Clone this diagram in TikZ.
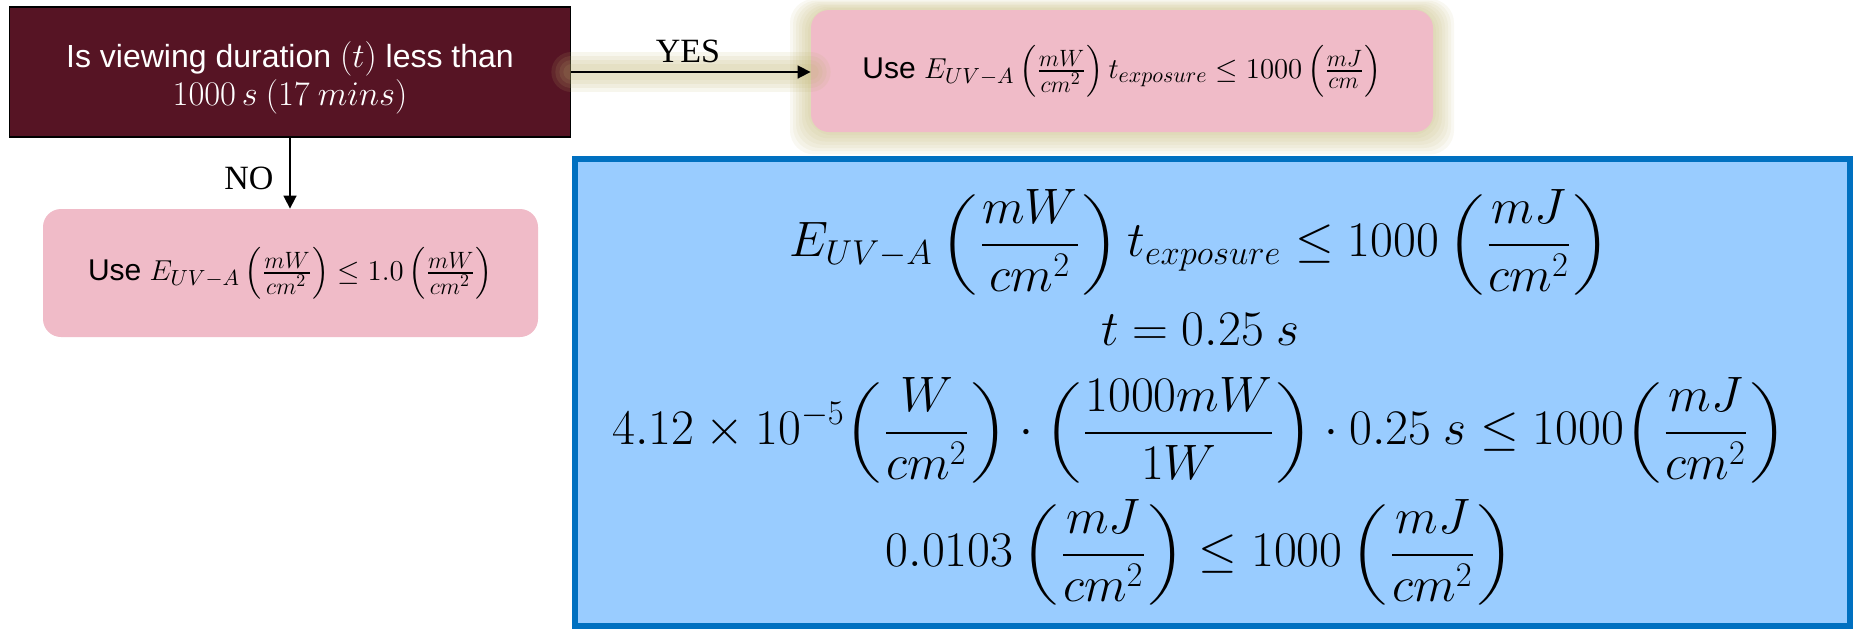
\documentclass[tikz,border=0pt]{standalone}
\usepackage{amsmath}
\usepackage{graphicx}
\usepackage[no-math]{fontspec}
\setmainfont{Liberation Serif}
\newfontfamily\arialf{Liberation Sans}
\usetikzlibrary{arrows.meta,calc}
\definecolor{maroonc}{RGB}{86,20,36}
\definecolor{pinkc}{RGB}{240,187,200}
\definecolor{bluefill}{RGB}{153,204,255}
\definecolor{blueline}{RGB}{0,112,192}
\definecolor{glowc}{RGB}{190,178,110}
\newcommand{\pfr}[2]{\left(\frac{\scalebox{0.82}{$#1$}}{\scalebox{0.82}{$#2$}}\right)}
\newcommand{\sqp}[1]{\vcenter{\hbox{\scalebox{1}[0.84]{$#1$}}}}
\newcommand{\bfr}[2]{\mathopen{\sqp{\left(\vphantom{\dfrac{#1}{#2}}\right.}}\dfrac{#1}{#2}\mathclose{\sqp{\left.\vphantom{\dfrac{#1}{#2}}\right)}}}
\tikzset{
  darkbox/.style={draw=black, line width=0.6pt, fill=maroonc, inner sep=0pt},
  darktext/.style={text=white, align=center, font=\arialf\fontsize{16}{19}\selectfont, inner sep=0pt},
  pinkbox/.style={fill=pinkc, rounded corners=9pt, align=center, font=\arialf\fontsize{15}{18}\selectfont, inner sep=0pt},
  conn/.style={draw=black, line width=0.8pt, -{Triangle[length=6.5pt,width=6.5pt]}},
  lbl/.style={font=\fontsize{17}{20}\selectfont, inner sep=0pt},
  eqn/.style={font=\fontsize{24}{28}\selectfont, inner sep=0pt},
}
\begin{document}
\begin{tikzpicture}[x=0.5pt,y=-0.5pt]
\useasboundingbox (0,0) rectangle (1854,628);
% glow behind top pink box
\foreach \i in {1,...,7}{
  \fill[glowc, opacity=0.09, rounded corners=12pt] (811-3*\i,9.5-1.5*\i) rectangle (1433+3*\i,132+3.2*\i);
}
% blue box
\draw[draw=blueline, fill=bluefill, line width=3pt] (575,159) rectangle (1850,626);
% nodes
\node[darkbox, minimum width=280.75pt, minimum height=65pt] (q) at (290,72) {};
\node[darktext] (qt) at (290,78)
  {Is viewing duration $(t)$ less than\\ {\rmfamily\upshape $1000\,s\ (17\ mins)$}};
\node[pinkbox, minimum width=311pt, minimum height=61pt] (yesbox) at (1122,71)
  {Use $E_{UV-A}\pfr{mW}{cm^2}t_{exposure}\le 1000\pfr{mJ}{cm}$};
\node[pinkbox, minimum width=247.5pt, minimum height=64pt] (nobox) at (290.5,273)
  {Use $E_{UV-A}\pfr{mW}{cm^2}\le 1.0\pfr{mW}{cm^2}$};
% glow along the YES connector
\foreach \w in {40,32,24,16}{
  \draw[glowc, opacity=0.12, line width=\w*0.5pt, line cap=round] (q.east) -- (q.east -| yesbox.west);
}
% connectors
\draw[conn] (q.east) -- (q.east -| yesbox.west);
\draw[conn] (q.south) -- (q.south |- nobox.north);
\node[lbl] (yes) at (688,51) {YES};
\node[lbl] (no) at (249,178) {NO};
% equations
\node[eqn] (e1) at (1200,242) {$\displaystyle E_{UV-A}\,\bfr{mW}{cm^2}\,t_{exposure}\le 1000\,\bfr{mJ}{cm^2}$};
\node[eqn] (e2) at (1200,329) {$t=0.25\ s$};
\node[eqn] (e3) at (1200,430) {$\displaystyle 4.12\times 10^{-5}\bfr{W}{cm^2}\cdot\bfr{1000mW}{1W}\cdot 0.25\ s\le 1000\bfr{mJ}{cm^2}$};
\node[eqn] (e4) at (1200,552) {$\displaystyle 0.0103\,\bfr{mJ}{cm^2}\le 1000\,\bfr{mJ}{cm^2}$};
\end{tikzpicture}
\end{document}
